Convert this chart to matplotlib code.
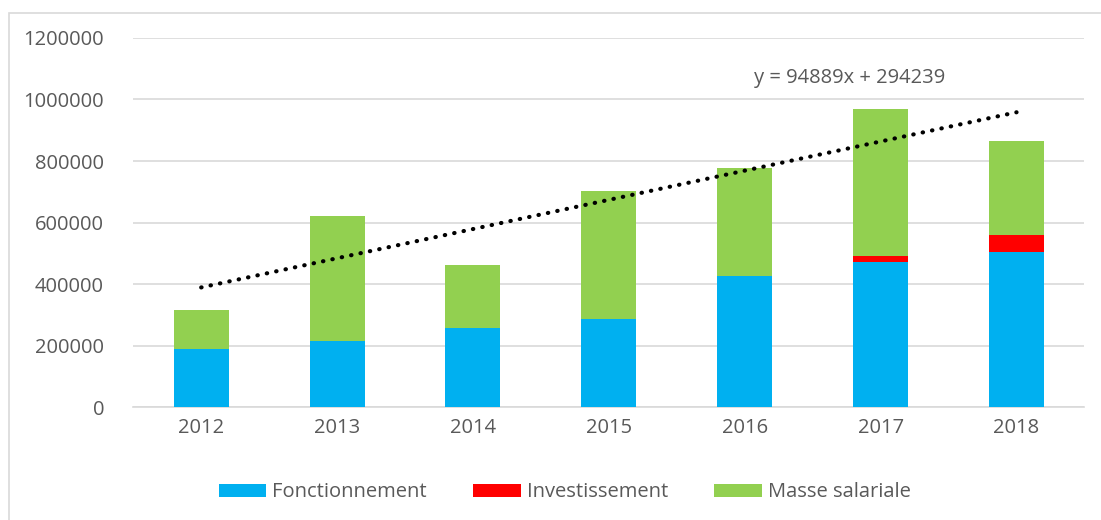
import matplotlib.pyplot as plt
import numpy as np
from matplotlib.patches import Rectangle

plt.rcParams['font.family'] = ['Open Sans', 'DejaVu Sans']

# donnees
years = ['2012', '2013', '2014', '2015', '2016', '2017', '2018']
fonctionnement = [189000, 215000, 257000, 286000, 426000, 471000, 504000]
investissement = [0, 0, 0, 0, 0, 20000, 55000]
masse_salariale = [126000, 406000, 205000, 416000, 351000, 478000, 306000]
trend_slope = 94889
trend_intercept = 294239
trend_label = 'y = 94889x + 294239'

txt_color = '#595959'
fs = 14.5
fig = plt.figure(figsize=(11.01, 5.2), dpi=100)
ax = fig.add_axes([0.121, 0.217, 0.864, 0.71])

x = np.arange(len(years))
w = 0.405
b1 = np.array(fonctionnement)
b2 = b1 + np.array(investissement)
ax.bar(x, fonctionnement, w, color='#00B0F0', label='Fonctionnement', zorder=3)
ax.bar(x, investissement, w, bottom=b1, color='#FF0000', label='Investissement', zorder=3)
ax.bar(x, masse_salariale, w, bottom=b2, color='#92D050', label='Masse salariale', zorder=3)

# courbe de tendance lineaire (x Excel = 1..7)
xt = np.array([0, len(years) - 1])
yt = trend_slope * (xt + 1) + trend_intercept
ax.plot(xt, yt, color='black', linestyle=(0, (0.1, 2.2)), linewidth=3,
        dash_capstyle='round', zorder=4)
ax.text(4.77, 1070000, trend_label, ha='center', va='center', fontsize=fs, color=txt_color)

ax.set_xlim(-0.5, len(years) - 0.5)
ax.set_ylim(0, 1200000)
ax.set_yticks(np.arange(0, 1200001, 200000))
ax.set_yticklabels([str(v) for v in range(0, 1200001, 200000)])
ax.set_xticks(x)
ax.set_xticklabels(years)
ax.yaxis.grid(True, color='#D9D9D9', linewidth=1.2, zorder=0)
ax.tick_params(axis='both', length=0, labelsize=fs, labelcolor=txt_color)
ax.tick_params(axis='y', pad=21)
ax.tick_params(axis='x', pad=8)
for s in ['top', 'right', 'left']:
    ax.spines[s].set_visible(False)
ax.spines['bottom'].set_color('#D9D9D9')
ax.spines['bottom'].set_linewidth(1.2)

leg = fig.legend(loc='center', bbox_to_anchor=(0.513, 0.053), ncol=3, frameon=False,
                 fontsize=fs, handlelength=2.35, handleheight=0.6, columnspacing=2.3,
                 handletextpad=0.3)
for t in leg.get_texts():
    t.set_color(txt_color)

# bordure du graphique
fig.patches.append(Rectangle((0.008, -0.01), 1.0, 0.985, transform=fig.transFigure,
                             fill=False, edgecolor='#D9D9D9', linewidth=1.2))

fig.savefig('out.png', dpi=100)
